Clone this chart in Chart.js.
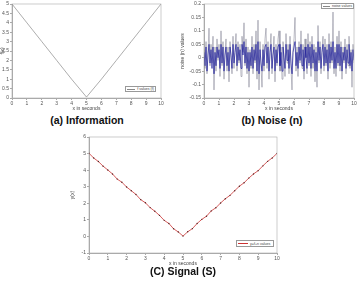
<!DOCTYPE html>
<html lang="en">
<head>
  <meta charset="UTF-8">
  <title>Information, Noise and Signal</title>
  <style>
    body {
      margin: 0;
      width: 359px;
      height: 284px;
      background: #fff;
      position: relative;
      overflow: hidden;
      font-family: 'Liberation Sans', Arial, sans-serif;
    }
    .box { position: absolute; }
    .cap {
      position: absolute;
      font-weight: bold;
      font-size: 10.5px;
      color: #111;
      text-align: center;
      white-space: nowrap;
    }
    .leg {
      position: absolute;
      border: 0.5px solid #999;
      background: #fff;
      font-size: 3.6px;
      color: #444;
      display: flex;
      align-items: center;
      padding: 0 1px;
      box-sizing: border-box;
      white-space: nowrap;
    }
    .leg span.ln {
      display: inline-block;
      width: 10px;
      height: 0;
      border-top: 0.6px solid #888;
      margin-right: 2px;
    }
  </style>
</head>
<body>
  <div class="box" style="left:0;top:0;width:166px;height:112px"><canvas id="infoChart"></canvas></div>
  <div class="box" style="left:180px;top:0;width:179px;height:112px"><canvas id="noiseChart"></canvas></div>
  <div class="box" style="left:70px;top:132px;width:212px;height:135px"><canvas id="signalChart"></canvas></div>

  <div class="leg" style="left:125px;top:86px;width:31px;height:6px"><span class="ln"></span>f values (f)</div>
  <div class="leg" style="left:321px;top:3px;width:33px;height:6px"><span class="ln"></span>noise values</div>
  <div class="leg" style="left:236px;top:240px;width:38px;height:7px"><span class="ln" style="border-color:#c33"></span>y=f+n values</div>

  <div class="cap" style="left:37px;top:114px;width:100px">(a) Information</div>
  <div class="cap" style="left:222px;top:114px;width:100px">(b) Noise (n)</div>
  <div class="cap" style="left:133px;top:265px;width:100px">(C) Signal (S)</div>

  <script src="https://cdn.jsdelivr.net/npm/chart.js"></script>
  <script>
    // (a) information f(x)
    const infoX = [0, 1, 2, 3, 4, 5, 6, 7, 8, 9, 10];
    const infoY = [5, 4, 3, 2, 1, 0.05, 1, 2, 3, 4, 5];

    // (b) noise, 151 samples over 0..10 s
    const noiseGray = [
      0.03,-0.04,0.06,-0.06,0.02,0.11,-0.03,0.05,-0.02,0.08,-0.12,0.04,-0.05,0.07,-0.01,
      0.05,-0.07,0.10,-0.03,0.06,-0.08,0.02,0.07,-0.05,0.04,-0.09,0.06,0.00,-0.06,0.08,
      -0.04,0.03,0.09,-0.05,0.06,-0.02,0.05,-0.07,0.08,0.02,0.13,-0.03,0.07,-0.06,0.04,
      -0.11,0.03,-0.04,0.08,-0.06,0.05,-0.02,0.10,-0.08,0.14,-0.12,0.06,-0.03,-0.11,0.05,
      -0.05,0.07,0.11,-0.04,0.06,-0.08,0.03,0.09,-0.06,0.02,0.08,-0.09,0.05,-0.03,0.07,
      0.10,-0.05,0.04,-0.08,0.06,0.01,-0.07,0.09,-0.02,0.05,-0.06,0.08,-0.04,-0.12,0.03,
      0.07,0.15,-0.05,0.04,-0.07,0.06,-0.02,0.10,-0.04,0.05,-0.08,0.07,0.00,-0.06,0.09,
      -0.03,0.06,-0.07,0.08,-0.04,0.05,-0.09,0.04,-0.11,0.12,-0.02,0.06,-0.06,0.03,0.08,
      -0.05,0.07,-0.03,0.05,-0.08,0.09,-0.04,0.06,-0.02,0.17,-0.06,0.04,-0.07,0.08,-0.03,
      0.10,-0.05,0.06,-0.08,0.04,-0.02,0.07,-0.06,0.05,-0.03,0.08,-0.04,0.03,-0.11,0.05,-0.02
    ];
    const noiseBlue = [
      0.02,-0.03,0.04,-0.05,0.01,0.05,-0.02,0.03,-0.04,0.04,-0.06,0.02,-0.03,0.04,0.00,
      0.03,-0.04,0.05,-0.02,0.04,-0.05,0.01,0.04,-0.03,0.02,-0.05,0.04,0.01,-0.04,0.05,
      -0.02,0.02,0.05,-0.03,0.04,-0.01,0.03,-0.04,0.05,0.01,0.06,-0.02,0.04,-0.04,0.02,
      -0.05,0.02,-0.03,0.04,-0.04,0.03,-0.01,0.05,-0.05,0.06,-0.06,0.03,-0.02,-0.05,0.03,
      -0.03,0.04,0.05,-0.02,0.04,-0.05,0.02,0.05,-0.04,0.01,0.04,-0.05,0.03,-0.02,0.04,
      0.05,-0.03,0.02,-0.05,0.04,0.00,-0.04,0.05,-0.01,0.03,-0.04,0.05,-0.02,-0.06,0.02,
      0.04,0.06,-0.03,0.02,-0.04,0.04,-0.01,0.05,-0.03,0.03,-0.05,0.04,0.00,-0.04,0.05,
      -0.02,0.04,-0.04,0.05,-0.02,0.03,-0.05,0.02,-0.05,0.06,-0.01,0.04,-0.04,0.02,0.05,
      -0.03,0.04,-0.02,0.03,-0.05,0.05,-0.02,0.04,-0.01,0.06,-0.04,0.02,-0.04,0.05,-0.02,
      0.05,-0.03,0.04,-0.05,0.02,-0.01,0.04,-0.04,0.03,-0.02,0.05,-0.03,0.02,-0.05,0.03,-0.01
    ];
    const noiseX = noiseGray.map((_, i) => i / 15);

    // (c) signal y = f + n
    const signalX = [0,0.25,0.5,0.75,1,1.25,1.5,1.75,2,2.25,2.5,2.75,3,3.25,3.5,3.75,4,4.25,4.5,4.75,
                     5,5.25,5.5,5.75,6,6.25,6.5,6.75,7,7.25,7.5,7.75,8,8.25,8.5,8.75,9,9.25,9.5,9.75,10];
    const signalY = [5.02,4.73,4.52,4.24,4.01,3.77,3.46,3.27,2.98,2.76,2.53,2.22,2.03,1.74,1.52,1.27,0.97,0.78,0.46,0.27,
                     0.02,0.28,0.47,0.78,1.03,1.22,1.54,1.73,2.02,2.27,2.48,2.76,3.03,3.24,3.52,3.77,3.97,4.26,4.53,4.74,5.01];

    const tickFont = { size: 5, family: 'Liberation Sans' };
    const tickColor = '#555';

    // matlab-like box around the plot area
    const frame = {
      id: 'frame',
      afterDraw(chart) {
        const { ctx, chartArea: a } = chart;
        ctx.save();
        ctx.strokeStyle = '#aaa';
        ctx.lineWidth = 0.6;
        ctx.strokeRect(a.left, a.top, a.right - a.left, a.bottom - a.top);
        ctx.restore();
      }
    };

    function pts(xs, ys) {
      return xs.map((x, i) => ({ x: x, y: ys[i] }));
    }

    function axes(yMin, yMax, yStep, yTitle, yWidth) {
      return {
        x: {
          type: 'linear', min: 0, max: 10,
          ticks: { stepSize: 1, font: tickFont, color: tickColor, padding: 1, maxRotation: 0 },
          grid: { drawOnChartArea: false, tickLength: 2, color: '#aaa' },
          border: { color: '#aaa' },
          title: { display: true, text: 'x in seconds', font: tickFont, color: '#444', padding: 0 },
          afterFit: s => { s.height = 14; }
        },
        y: {
          min: yMin, max: yMax,
          ticks: {
            stepSize: yStep, font: tickFont, color: tickColor, padding: 1,
            callback: v => String(+v.toFixed(2))
          },
          grid: { drawOnChartArea: false, tickLength: 2, color: '#aaa' },
          border: { color: '#aaa' },
          title: { display: true, text: yTitle, font: tickFont, color: '#444', padding: 0 },
          afterFit: s => { s.width = yWidth; }
        }
      };
    }

    function baseOptions(scales, pad) {
      return {
        responsive: true,
        maintainAspectRatio: false,
        animation: false,
        layout: { padding: pad },
        plugins: { legend: { display: false }, tooltip: { enabled: false } },
        scales: scales
      };
    }

    new Chart(document.getElementById('infoChart'), {
      type: 'scatter',
      data: {
        datasets: [{
          label: 'f values (f)',
          data: pts(infoX, infoY),
          showLine: true,
          borderColor: '#8a8a8a',
          borderWidth: 0.7,
          pointRadius: 0
        }]
      },
      options: baseOptions(axes(0, 5, 0.5, 'f(x)', 12), { top: 3, right: 5 }),
      plugins: [frame]
    });

    new Chart(document.getElementById('noiseChart'), {
      type: 'scatter',
      data: {
        datasets: [{
          label: 'noise values',
          data: pts(noiseX, noiseBlue),
          showLine: true,
          borderColor: '#1c1c9c',
          borderWidth: 0.7,
          pointRadius: 0
        }, {
          label: 'noise values gray',
          data: pts(noiseX, noiseGray),
          showLine: true,
          borderColor: 'rgba(110,110,130,0.75)',
          borderWidth: 0.6,
          pointRadius: 0
        }]
      },
      options: baseOptions(axes(-0.15, 0.2, 0.05, 'noise (n) values', 24), { top: 3, right: 5 }),
      plugins: [frame]
    });

    new Chart(document.getElementById('signalChart'), {
      type: 'scatter',
      data: {
        datasets: [{
          label: 'y=f+n values',
          data: pts(signalX, signalY),
          showLine: true,
          borderColor: '#cc3333',
          borderWidth: 0.8,
          pointRadius: 0.7,
          pointBackgroundColor: '#552222',
          pointBorderWidth: 0
        }]
      },
      options: baseOptions(axes(-1, 6, 1, 'y(x)', 19), { top: 5, right: 5 }),
      plugins: [frame]
    });
  </script>
</body>
</html>
